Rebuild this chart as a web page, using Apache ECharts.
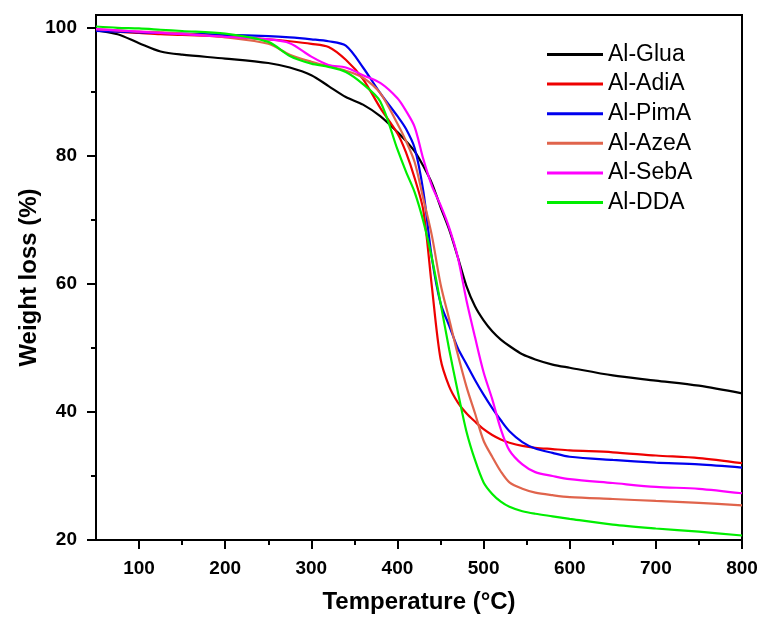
<!DOCTYPE html>
<html>
<head>
<meta charset="utf-8">
<script src="https://cdn.jsdelivr.net/npm/echarts@6/dist/echarts.min.js"></script>
<style>html,body{margin:0;padding:0;background:#fff;}#c{width:763px;height:619px;}</style>
</head>
<body>
<div id="c"></div>
<script>
const temps = [50,75,100,125,150,200,250,275,300,320,340,360,380,400,410,420,430,440,450,460,470,480,490,500,510,520,530,545,560,580,600,650,700,750,800];
const glua = [99.6,99.0,97.6,96.3,95.8,95.2,94.5,93.8,92.6,90.9,89.2,88.0,86.2,83.7,82.3,80.7,78.4,75.7,72.0,68.5,64.2,59.7,56.5,54.3,52.6,51.3,50.3,49.0,48.2,47.4,46.9,45.7,44.9,44.1,42.9];
const adia = [99.7,99.4,99.2,99.0,98.9,98.6,98.2,97.9,97.5,97.0,95.0,92.0,87.5,83.5,80.5,76.5,71.5,59.5,48.3,44.0,41.5,39.8,38.5,37.3,36.4,35.7,35.2,34.7,34.4,34.2,34.0,33.7,33.2,32.8,32.0];
const pima = [99.5,99.4,99.3,99.2,99.1,98.9,98.7,98.5,98.2,97.9,97.2,93.8,89.8,86.2,84.2,81.2,74.5,64.0,57.0,53.5,50.0,47.5,45.0,42.7,40.6,38.7,37.0,35.3,34.3,33.6,33.0,32.5,32.1,31.8,31.3];
const azea = [99.8,99.6,99.4,99.3,99.1,98.5,97.5,95.8,94.7,94.0,93.3,92.2,89.8,85.0,82.3,79.0,73.3,67.5,60.0,54.5,49.0,44.0,39.8,35.5,33.0,30.7,29.0,28.0,27.4,27.0,26.7,26.4,26.1,25.8,25.4];
const seba = [99.8,99.6,99.4,99.2,99.0,98.6,98.2,97.6,95.5,94.2,93.8,92.6,91.4,89.0,87.0,84.5,79.5,75.3,72.3,68.8,64.2,57.5,51.7,46.2,42.0,37.3,34.0,31.8,30.6,30.0,29.5,28.9,28.3,28.0,27.3];
const dda = [100.2,100.0,99.9,99.7,99.5,99.1,97.8,95.6,94.4,93.9,93.1,91.2,88.5,81.0,77.5,74.3,69.8,64.0,57.0,49.8,43.2,37.0,32.5,29.0,27.2,26.0,25.2,24.5,24.1,23.7,23.3,22.4,21.8,21.3,20.7];
const names = ['Al-Glua','Al-AdiA','Al-PimA','Al-AzeA','Al-SebA','Al-DDA'];
const colors = ['#000000','#ee0000','#0000ee','#e0644c','#ff00ff','#00ee00'];
const xMajor = [100,200,300,400,500,600,700,800];
const xMinor = [150,250,350,450,550,650,750];
const yMajor = [20,40,60,80,100];
const yMinor = [30,50,70,90];

const allSeries = [glua,adia,pima,azea,seba,dda];
const chart = echarts.init(document.getElementById('c'));
const font = '"Liberation Sans", Arial, sans-serif';
chart.setOption({
  backgroundColor:'#fff',
  animation:false,
  grid:{left:96,right:21,top:15,bottom:78,show:true,borderColor:'#000',borderWidth:2,backgroundColor:'transparent'},
  legend:{
    data:names, orient:'vertical', left:542, top:38, icon:'rect', itemWidth:56, itemHeight:3, itemGap:6.6,
    textStyle:{fontFamily:font,fontSize:23,color:'#000',lineHeight:22,padding:[0,0,0,0]},
  },
  xAxis:[
    {type:'value',min:50,max:800,
     name:'Temperature (°C)',nameLocation:'middle',nameGap:50,nameMoveOverlap:false,
     nameTextStyle:{fontFamily:font,fontSize:24,fontWeight:'bold',color:'#000'},
     axisLine:{show:true,onZero:false,lineStyle:{color:'#000',width:2}},
     axisTick:{show:true,inside:false,length:9,lineStyle:{color:'#000',width:2},customValues:xMajor},
     axisLabel:{customValues:xMajor,margin:19,fontFamily:font,fontSize:19,fontWeight:'bold',color:'#000'},
     splitLine:{show:false}},
    {type:'value',min:50,max:800,position:'bottom',
     axisLine:{show:false},
     axisTick:{show:true,length:5,lineStyle:{color:'#000',width:2},customValues:xMinor},
     axisLabel:{show:false},splitLine:{show:false}}
  ],
  yAxis:[
    {type:'value',min:20,max:102,
     name:'Weight loss (%)',nameLocation:'middle',nameGap:55,nameMoveOverlap:false,
     nameTextStyle:{fontFamily:font,fontSize:24,fontWeight:'bold',color:'#000'},
     axisLine:{show:true,onZero:false,lineStyle:{color:'#000',width:2}},
     axisTick:{show:true,length:9,lineStyle:{color:'#000',width:2},customValues:yMajor},
     axisLabel:{customValues:yMajor,margin:19,fontFamily:font,fontSize:19,fontWeight:'bold',color:'#000'},
     splitLine:{show:false}},
    {type:'value',min:20,max:102,position:'left',
     axisLine:{show:false},
     axisTick:{show:true,length:5,lineStyle:{color:'#000',width:2},customValues:yMinor},
     axisLabel:{show:false},splitLine:{show:false}}
  ],
  series: names.map((n,k)=>({
    name:n,type:'line',xAxisIndex:0,yAxisIndex:0,
    data: temps.map((t,i)=>[t, allSeries[k][i]]),
    symbol:'none',smooth:0.3,
    lineStyle:{color:colors[k],width:2.2},itemStyle:{color:colors[k]}
  }))
});
</script>
</body>
</html>
